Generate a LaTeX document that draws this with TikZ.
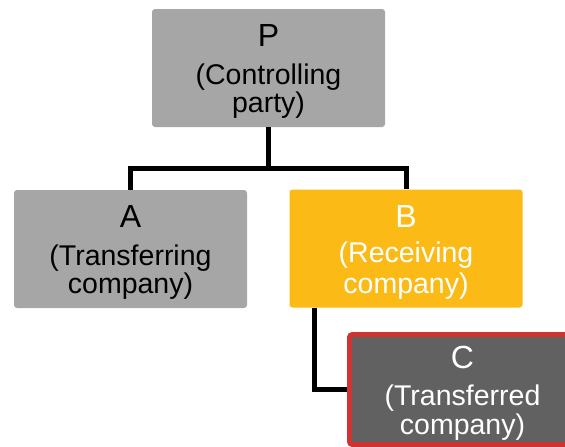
\documentclass[tikz,border=0pt]{standalone}
\usepackage{fontspec}
\setmainfont{Liberation Sans}
\definecolor{boxgray}{RGB}{166,166,166}
\definecolor{boxgold}{RGB}{251,186,22}
\definecolor{boxdark}{RGB}{97,97,97}
\definecolor{boxred}{RGB}{206,52,50}
\tikzset{
  entity/.style={rectangle, rounded corners=3pt, inner sep=0pt,
    minimum width=233pt, minimum height=118pt},
  letter/.style={anchor=base, inner sep=0pt, font=\fontsize{32}{36}\selectfont},
  caption/.style={anchor=base, inner sep=0pt, font=\fontsize{28.5}{32}\selectfont},
  link/.style={line width=5pt, black}
}
\begin{document}
\begin{tikzpicture}[x=1pt, y=-1pt]
\useasboundingbox (0,0) rectangle (565,447);
\clip (0,0) rectangle (565,447);

% ownership boxes
\node[entity, fill=boxgray] (P) at (268.5,68) {};
\node[entity, fill=boxgray] (A) at (130.5,249) {};
\node[entity, fill=boxgold] (B) at (406,248.5) {};
\node[entity, fill=boxdark, draw=boxred, line width=5pt,
      minimum width=226pt, minimum height=110pt] (C) at (462.5,389.5) {};

% connectors
\coordinate (split) at ([yshift=-41pt]P.south);
\draw[link] (P.south) -- (split);
\draw[link] (A.north) |- (split) -| (B.north);
\coordinate (bdrop) at ([xshift=25pt]B.south west);
\draw[link] (bdrop) |- (C.west);

% labels
\node[letter] (Pl) at ([yshift=-38pt]P.north) {P};
\node[caption] (Pc1) at ([yshift=-76pt]P.north) {(Controlling};
\node[caption] (Pc2) at ([yshift=-104pt]P.north) {party)};

\node[letter] (Al) at ([yshift=-38pt]A.north) {A};
\node[caption] (Ac1) at ([yshift=-76pt]A.north) {(Transferring};
\node[caption] (Ac2) at ([yshift=-104pt]A.north) {company)};

\node[letter, white] (Bl) at ([yshift=-38pt]B.north) {B};
\node[caption, white] (Bc1) at ([yshift=-73pt]B.north) {(Receiving};
\node[caption, white] (Bc2) at ([yshift=-104pt]B.north) {company)};

\node[letter, white] (Cl) at ([yshift=-36.5pt]C.north) {C};
\node[caption, white] (Cc1) at ([yshift=-73pt]C.north) {(Transferred};
\node[caption, white] (Cc2) at ([yshift=-102pt]C.north) {company)};
\end{tikzpicture}
\end{document}
